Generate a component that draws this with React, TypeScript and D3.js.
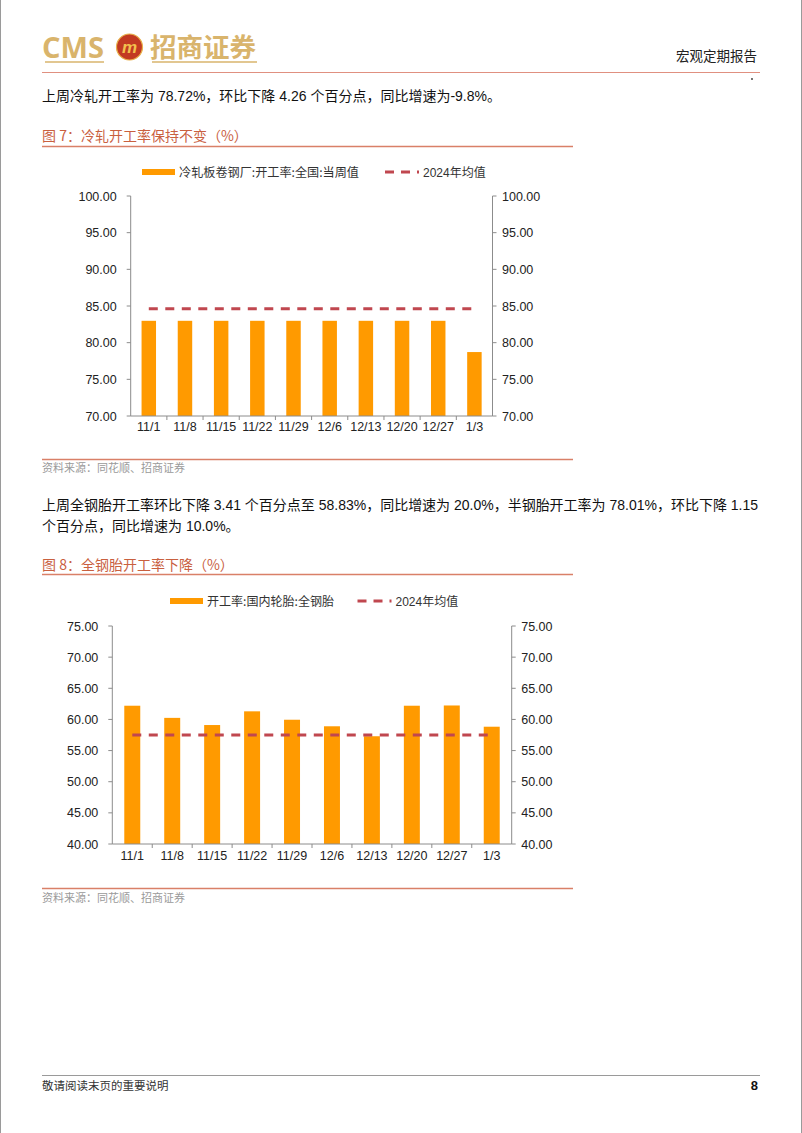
import React from "react";
import * as d3 from "d3";

const categories = ["11/1", "11/8", "11/15", "11/22", "11/29", "12/6", "12/13", "12/20", "12/27", "1/3"];
const coldRolledRate = [82.98, 82.98, 82.98, 82.98, 82.98, 82.98, 82.98, 82.98, 82.98, 78.72];
const coldRolledAvg2024 = 84.63;
const coldTicks = [70, 75, 80, 85, 90, 95, 100];

const allSteelTireRate = [62.2, 60.25, 59.1, 61.3, 59.95, 58.9, 57.3, 62.2, 62.24, 58.83];
const tireAvg2024 = 57.5;
const tireTicks = [40, 45, 50, 55, 60, 65, 70, 75];

const ORANGE = "#FF9A00";
const DASH_RED = "#C0474F";
const AXIS = "#8C8C8C";
const TITLE = "#C9603F";
const LATIN = "'Liberation Sans', Arial, 'Noto Sans CJK SC', sans-serif";
const CJK = "'Noto Sans CJK SC', 'Liberation Sans', sans-serif";

type ChartProps = {
  values: number[];
  avg: number;
  ticks: number[];
  domain: [number, number];
  x0: number;
  x1: number;
  yTop: number;
  yBottom: number;
  legendY: number;
  legendRectX: number;
  legendText: string;
  legendTextLen: number;
  legendDashX: number;
  labelY: number;
};

function BarChart(p: ChartProps) {
  const x = d3.scaleBand<string>().domain(categories).range([p.x0, p.x1]).padding(0);
  const y = d3.scaleLinear().domain(p.domain).range([p.yBottom, p.yTop]);
  const bw = x.bandwidth() * 0.4;
  const firstC = (x(categories[0]) as number) + x.bandwidth() / 2;
  const lastC = (x(categories[categories.length - 1]) as number) + x.bandwidth() / 2;
  return (
    <g>
      {/* legend */}
      <rect x={p.legendRectX} y={p.legendY - 3} width={33} height={6} fill={ORANGE} />
      <text x={p.legendRectX + 37} y={p.legendY + 4.5} fontSize={12.5} fontFamily={CJK} fill="#333"
        textLength={p.legendTextLen} lengthAdjust="spacingAndGlyphs">{p.legendText}</text>
      <line x1={p.legendDashX} x2={p.legendDashX + 34} y1={p.legendY} y2={p.legendY} stroke={DASH_RED}
        strokeWidth={3} strokeDasharray="9,7" />
      <text x={p.legendDashX + 38} y={p.legendY + 4.5} fontSize={12} fontFamily={LATIN} fill="#333">2024年均值</text>

      {/* bars */}
      {p.values.map((v, i) => {
        const cx = (x(categories[i]) as number) + x.bandwidth() / 2;
        return <rect key={i} x={cx - bw / 2} y={y(v)} width={bw} height={y(p.domain[0]) - y(v)} fill={ORANGE} />;
      })}

      {/* average dashed */}
      <line x1={firstC} x2={lastC} y1={y(p.avg)} y2={y(p.avg)} stroke={DASH_RED} strokeWidth={3}
        strokeDasharray="9,7.5" />

      {/* left axis */}
      <line x1={p.x0} x2={p.x0} y1={p.yTop} y2={p.yBottom} stroke={AXIS} strokeWidth={1} />
      {p.ticks.map((t) => (
        <g key={"l" + t}>
          <line x1={p.x0 - 4} x2={p.x0} y1={y(t)} y2={y(t)} stroke={AXIS} />
          <text x={p.x0 - 14} y={y(t) + 4.5} textAnchor="end" fontSize={12.5} fontFamily={LATIN} fill="#222">
            {t.toFixed(2)}
          </text>
        </g>
      ))}
      {/* right axis */}
      <line x1={p.x1} x2={p.x1} y1={p.yTop} y2={p.yBottom} stroke={AXIS} strokeWidth={1} />
      {p.ticks.map((t) => (
        <g key={"r" + t}>
          <line x1={p.x1} x2={p.x1 + 4} y1={y(t)} y2={y(t)} stroke={AXIS} />
          <text x={p.x1 + 9.5} y={y(t) + 4.5} textAnchor="start" fontSize={12.5} fontFamily={LATIN} fill="#222">
            {t.toFixed(2)}
          </text>
        </g>
      ))}
      {/* x axis */}
      <line x1={p.x0} x2={p.x1} y1={p.yBottom} y2={p.yBottom} stroke={AXIS} strokeWidth={1} />
      {categories.map((c, i) => {
        const bx = x(c) as number;
        return (
          <g key={c}>
            {i > 0 && <line x1={bx} x2={bx} y1={p.yBottom} y2={p.yBottom + 4} stroke={AXIS} />}
            <text x={bx + x.bandwidth() / 2} y={p.labelY} textAnchor="middle" fontSize={12.5} fontFamily={LATIN} fill="#222">
              {c}
            </text>
          </g>
        );
      })}
    </g>
  );
}

export default function App() {
  return (
    <svg width={802} height={1133} style={{ position: "absolute", left: 0, top: 0, background: "#fff" }}>
      <rect x={0} y={0} width={802} height={1133} fill="#fff" />
      <line x1={0.5} x2={0.5} y1={0} y2={1133} stroke="#9a9a9a" />
      <line x1={801.5} x2={801.5} y1={0} y2={1133} stroke="#9a9a9a" />

      {/* header logo */}
      <text x={42} y={58} fontSize={29} fontWeight="bold" fontFamily={"'Open Sans', 'Liberation Sans', sans-serif"} fill="#D9B46C"
        textLength={62} lengthAdjust="spacingAndGlyphs">CMS</text>
      <circle cx={129.5} cy={47} r={13} fill="#C23A22" />
      <circle cx={129.5} cy={47} r={13} fill="none" stroke="#E8B04A" strokeWidth={1.2} />
      <text x={129.5} y={53} textAnchor="middle" fontSize={17} fontStyle="italic" fontWeight="bold" fontFamily={LATIN} fill="#F2C14E">m</text>
      <text x={150} y={57} fontSize={26} fontWeight="bold" fontFamily={CJK} fill="#D9B46C"
        textLength={106} lengthAdjust="spacingAndGlyphs">招商证券</text>
      <line x1={45} x2={104} y1={62} y2={62} stroke="#D9B46C" strokeWidth={1.5} />
      <line x1={152} x2={257} y1={62} y2={62} stroke="#D9B46C" strokeWidth={1.5} />
      <text x={757} y={61} textAnchor="end" fontSize={13.5} fontFamily={CJK} fill="#222">宏观定期报告</text>
      <line x1={42} x2={760} y1={72.5} y2={72.5} stroke="#E09080" strokeWidth={1.2} />
      <circle cx={752} cy={79} r={0.9} fill="#333" />

      {/* paragraph 1 */}
      <text x={42} y={101} fontSize={14} fontFamily={LATIN} fill="#111">
        上周冷轧开工率为 78.72%，环比下降 4.26 个百分点，同比增速为-9.8%。
      </text>

      {/* figure 7 */}
      <text x={42} y={141} fontSize={14} fontFamily={CJK} fill={TITLE}>图 7：冷轧开工率保持不变（%）</text>
      <line x1={42} x2={573} y1={146.5} y2={146.5} stroke="#D98068" strokeWidth={1.3} />
      <BarChart
        values={coldRolledRate}
        avg={coldRolledAvg2024}
        ticks={coldTicks}
        domain={[70, 100]}
        x0={130.7}
        x1={492.5}
        yTop={196}
        yBottom={416}
        legendY={172}
        legendRectX={142}
        legendText="冷轧板卷钢厂:开工率:全国:当周值"
        legendTextLen={180}
        legendDashX={385}
        labelY={431}
      />
      <line x1={42} x2={573} y1={459.5} y2={459.5} stroke="#D98068" strokeWidth={1.3} />
      <text x={42} y={472} fontSize={11} fontFamily={CJK} fill="#9a9a9a">资料来源：同花顺、招商证券</text>

      {/* paragraph 2 */}
      <text x={42} y={510} fontSize={14} fontFamily={LATIN} fill="#111" textLength={716} lengthAdjust="spacing">
        上周全钢胎开工率环比下降 3.41 个百分点至 58.83%，同比增速为 20.0%，半钢胎开工率为 78.01%，环比下降 1.15
      </text>
      <text x={42} y={531} fontSize={14} fontFamily={LATIN} fill="#111">个百分点，同比增速为 10.0%。</text>

      {/* figure 8 */}
      <text x={42} y={570} fontSize={14} fontFamily={CJK} fill={TITLE}>图 8：全钢胎开工率下降（%）</text>
      <line x1={42} x2={573} y1={574.5} y2={574.5} stroke="#D98068" strokeWidth={1.3} />
      <BarChart
        values={allSteelTireRate}
        avg={tireAvg2024}
        ticks={tireTicks}
        domain={[40, 75]}
        x0={112.3}
        x1={511.7}
        yTop={626}
        yBottom={844}
        legendY={601}
        legendRectX={170}
        legendText="开工率:国内轮胎:全钢胎"
        legendTextLen={127}
        legendDashX={357.5}
        labelY={860}
      />
      <line x1={42} x2={573} y1={888.5} y2={888.5} stroke="#D98068" strokeWidth={1.3} />
      <text x={42} y={902} fontSize={11} fontFamily={CJK} fill="#9a9a9a">资料来源：同花顺、招商证券</text>

      {/* footer */}
      <line x1={42} x2={760} y1={1075.5} y2={1075.5} stroke="#9a9a9a" strokeWidth={1} />
      <text x={42} y={1090} fontSize={11.5} fontFamily={CJK} fill="#333">敬请阅读末页的重要说明</text>
      <text x={758} y={1090} textAnchor="end" fontSize={13} fontWeight="bold" fontFamily={LATIN} fill="#111">8</text>
    </svg>
  );
}
